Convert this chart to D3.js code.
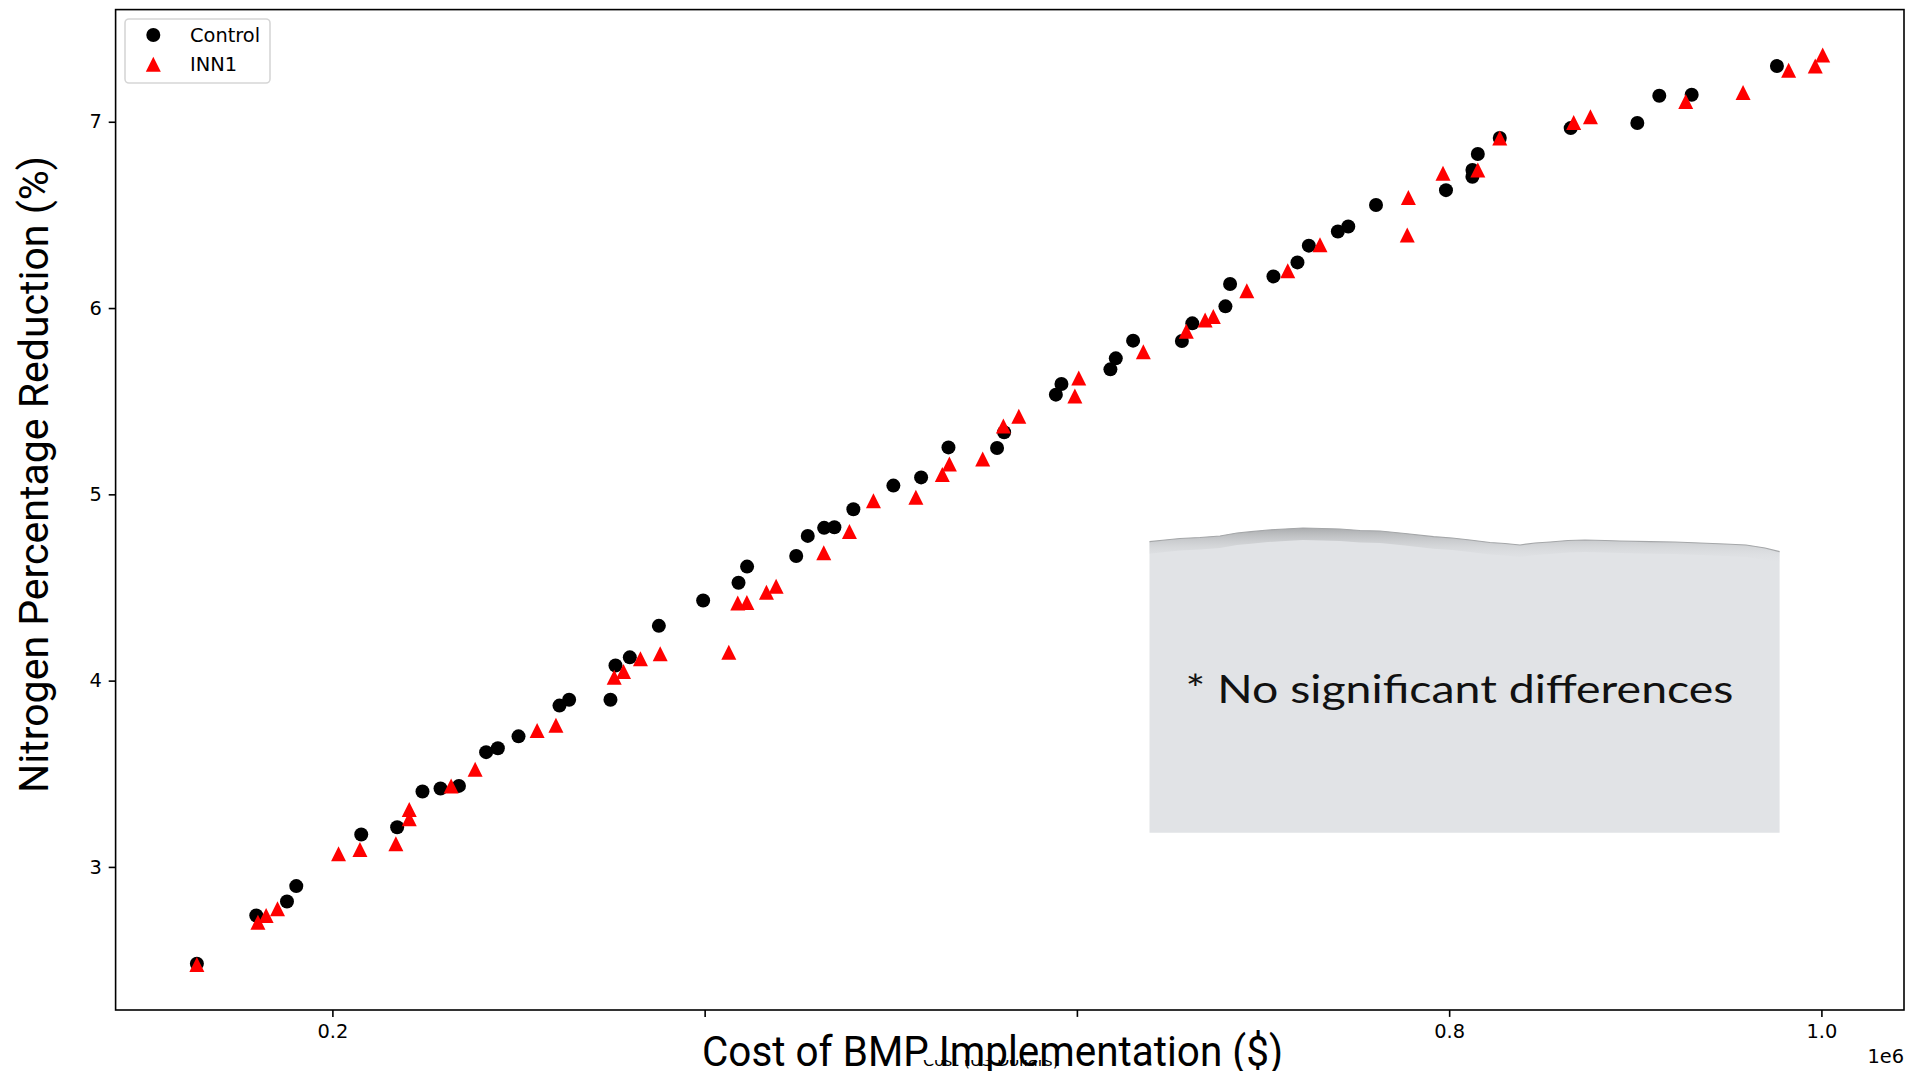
<!DOCTYPE html>
<html lang="en">
<head>
    <meta charset="UTF-8">
    <title>Nitrogen Reduction vs Cost of BMP Implementation</title>
    <script src="https://d3js.org/d3.v7.min.js"></script>
    <style>
        body {
            margin: 0;
            background-color: #ffffff;
        }
        svg {
            display: block;
        }
        .tick text {
            font-family: "DejaVu Sans", sans-serif;
            font-size: 19.4px;
            fill: #000;
        }
        .tick line {
            stroke: #000;
            stroke-width: 1.6;
        }
    </style>
</head>
<body>
    <svg width="1908" height="1071"></svg>

    <script>
        // Cost of BMP implementation ($) and nitrogen reduction (%) per scenario
        const controlCost = [
            127200, 159100, 175600, 180600, 215500, 234800, 248400, 258100, 268000, 282600,
            288900, 300000, 322000, 327200, 349400, 352100, 359800, 375400, 399200, 418200,
            422800, 449200, 455400, 464200, 469700, 479900, 501400, 516300, 531000, 557100,
            560900, 588700, 591700, 618000, 620900, 630200, 656400, 662000, 679800, 682300,
            705600, 718500, 724600, 740200, 745800, 760700, 798300, 812500, 812500, 815400,
            827200, 865300, 901100, 912900, 930300, 976100
        ];
        const controlReduction = [
            2.480, 2.739, 2.814, 2.897, 3.174, 3.213, 3.405, 3.421, 3.435, 3.616,
            3.637, 3.701, 3.866, 3.897, 3.897, 4.081, 4.125, 4.294, 4.430, 4.525,
            4.612, 4.669, 4.777, 4.820, 4.823, 4.920, 5.047, 5.091, 5.252, 5.249,
            5.333, 5.535, 5.592, 5.671, 5.730, 5.825, 5.823, 5.918, 6.009, 6.129,
            6.170, 6.245, 6.335, 6.411, 6.438, 6.553, 6.633, 6.705, 6.741, 6.827,
            6.913, 6.966, 6.993, 7.140, 7.145, 7.299
        ];

        const inn1Cost = [
            127200, 160000, 164400, 170500, 203300, 214800, 234100, 241300, 241300, 263800,
            276700, 310000, 320100, 351400, 356400, 365500, 376100, 413000, 417800, 422700,
            433200, 438400, 464000, 477800, 490700, 513500, 527700, 531500, 549400, 560500,
            568800, 598900, 601000, 635700, 658800, 668900, 673300, 691300, 713300, 730600,
            777500, 778100, 796700, 815400, 827200, 866900, 875900, 927100, 957900, 982400,
            996700, 1000700
        ];
        const inn1Reduction = [
            2.476, 2.703, 2.739, 2.775, 3.070, 3.093, 3.124, 3.258, 3.308, 3.435,
            3.524, 3.732, 3.760, 4.018, 4.049, 4.117, 4.144, 4.152, 4.417, 4.420,
            4.474, 4.506, 4.686, 4.801, 4.966, 4.984, 5.106, 5.163, 5.190, 5.367,
            5.419, 5.528, 5.625, 5.766, 5.875, 5.936, 5.954, 6.093, 6.200, 6.340,
            6.392, 6.594, 6.723, 6.741, 6.913, 6.996, 7.027, 7.109, 7.157, 7.277,
            7.299, 7.358
        ];

        const seriesNames = ["Control", "INN1"];
        // 0.4 and 0.6 labels are blanked out in the source figure
        const xTickValues = [200000, 400000, 600000, 800000, 1000000];
        const xTickLabels = ["0.2", "", "", "0.8", "1.0"];
        const yTickValues = [3, 4, 5, 6, 7];
        const yTickLabels = ["3", "4", "5", "6", "7"];

        const control = controlCost.map((c, i) => ({ x: c, y: controlReduction[i] }));
        const inn1 = inn1Cost.map((c, i) => ({ x: c, y: inn1Reduction[i] }));

        const svg = d3.select("svg");
        const margin = { top: 9.6, right: 4, bottom: 61, left: 115.6 };
        const width = +svg.attr("width");
        const height = +svg.attr("height");

        // matplotlib style 5% padding around the data
        function padded(vals) {
            const [lo, hi] = d3.extent(vals);
            const pad = (hi - lo) * 0.05;
            return [lo - pad, hi + pad];
        }
        const allX = controlCost.concat(inn1Cost);
        const allY = controlReduction.concat(inn1Reduction);

        const x = d3.scaleLinear()
            .domain(padded(allX))
            .range([margin.left, width - margin.right]);

        const y = d3.scaleLinear()
            .domain(padded(allY))
            .range([height - margin.bottom, margin.top]);

        // axes
        svg.append("g")
            .attr("transform", `translate(0,${height - margin.bottom})`)
            .call(d3.axisBottom(x).tickValues(xTickValues)
                .tickFormat((d, i) => xTickLabels[i])
                .tickSize(6.9).tickPadding(6.9))
            .call(g => g.select(".domain").remove());

        svg.append("g")
            .attr("transform", `translate(${margin.left},0)`)
            .call(d3.axisLeft(y).tickValues(yTickValues)
                .tickFormat((d, i) => yTickLabels[i])
                .tickSize(6.9).tickPadding(6.9))
            .call(g => g.select(".domain").remove());

        // offset text
        svg.append("text")
            .attr("x", width - margin.right)
            .attr("y", 1063)
            .attr("text-anchor", "end")
            .style("font-family", "DejaVu Sans, sans-serif")
            .style("font-size", "19.4px")
            .text("1e6");

        // original matplotlib x label, mostly hidden by the label box
        svg.append("text")
            .attr("x", 991)
            .attr("y", 1066)
            .attr("text-anchor", "middle")
            .style("font-family", "DejaVu Sans, sans-serif")
            .style("font-size", "16px")
            .text("Cost (US Dollars)");

        // frame
        svg.append("rect")
            .attr("x", margin.left)
            .attr("y", margin.top)
            .attr("width", width - margin.right - margin.left)
            .attr("height", height - margin.bottom - margin.top)
            .attr("fill", "none")
            .attr("stroke", "#000")
            .attr("stroke-width", 1.6);

        // markers
        const triangle = s => `M0,${-s / 2}L${s / 2},${s / 2}L${-s / 2},${s / 2}Z`;

        svg.append("g").selectAll("circle")
            .data(control)
            .enter().append("circle")
            .attr("cx", d => x(d.x))
            .attr("cy", d => y(d.y))
            .attr("r", 7)
            .attr("fill", "#000");

        svg.append("g").selectAll("path")
            .data(inn1)
            .enter().append("path")
            .attr("transform", d => `translate(${x(d.x)},${y(d.y)})`)
            .attr("d", triangle(15))
            .attr("fill", "#ff0000");

        // legend
        const legend = svg.append("g");
        legend.append("rect")
            .attr("x", 125).attr("y", 19)
            .attr("width", 145).attr("height", 64)
            .attr("rx", 4)
            .attr("fill", "#fff")
            .attr("fill-opacity", 0.8)
            .attr("stroke", "#d6d6d6")
            .attr("stroke-width", 1.6);
        legend.append("circle")
            .attr("cx", 153.3).attr("cy", 35).attr("r", 7).attr("fill", "#000");
        legend.append("path")
            .attr("transform", "translate(153.3,64.3)")
            .attr("d", triangle(15))
            .attr("fill", "#ff0000");
        legend.selectAll("text.lbl")
            .data(seriesNames)
            .enter().append("text")
            .attr("class", "lbl")
            .attr("x", 190)
            .attr("y", (d, i) => 42 + i * 29.3)
            .style("font-family", "DejaVu Sans, sans-serif")
            .style("font-size", "19.4px")
            .text(d => d);

        // x label box (covers the original label)
        svg.append("rect")
            .attr("x", 684).attr("y", 1019)
            .attr("width", 616).attr("height", 41)
            .attr("fill", "#fff");

        svg.append("text")
            .attr("x", 992.5)
            .attr("y", 1066)
            .attr("text-anchor", "middle")
            .attr("textLength", 581)
            .attr("lengthAdjust", "spacingAndGlyphs")
            .style("font-family", "'Liberation Sans Narrow', Roboto, sans-serif")
            .style("font-size", "43px")
            .text("Cost of BMP Implementation ($)");

        // y label
        svg.append("text")
            .attr("transform", "translate(48,474.5) rotate(-90)")
            .attr("text-anchor", "middle")
            .attr("textLength", 637)
            .attr("lengthAdjust", "spacingAndGlyphs")
            .style("font-family", "'Liberation Sans Narrow', Roboto, sans-serif")
            .style("font-size", "41px")
            .text("Nitrogen Percentage Reduction (%)");

        // torn paper note
        const defs = svg.append("defs");
        const grad = defs.append("linearGradient")
            .attr("id", "edgeShade")
            .attr("x1", 0).attr("y1", 0).attr("x2", 0).attr("y2", 1);
        grad.append("stop").attr("offset", "0%").attr("stop-color", "#a4a6a8").attr("stop-opacity", 0.9);
        grad.append("stop").attr("offset", "100%").attr("stop-color", "#e1e3e6").attr("stop-opacity", 0);

        const paperLeft = 1149.5, paperRight = 1779.6, paperBottom = 832.7;
        const tornEdge = [
            [1149.5, 541.7], [1165, 540], [1180, 538.5], [1200, 537.5], [1220, 536],
            [1237, 533], [1251, 531.7], [1268, 530], [1285, 529], [1303, 528],
            [1322, 528.5], [1340, 529], [1360, 530.5], [1380, 531], [1405, 533.5],
            [1433.5, 536.7], [1452, 538], [1470, 540], [1490, 542.5], [1505, 543.5],
            [1520, 545], [1535, 543], [1550, 542], [1568, 540.5], [1585, 540],
            [1605, 540.5], [1620, 541], [1650, 541.7], [1675, 542], [1700, 543],
            [1725, 544], [1746, 545], [1765, 548], [1779.6, 551.7]
        ];
        const paperPts = tornEdge.concat([[paperRight, paperBottom], [paperLeft, paperBottom]]);
        svg.append("path")
            .attr("d", "M" + paperPts.map(p => p.join(",")).join("L") + "Z")
            .attr("fill", "#e1e3e6");

        const band = tornEdge.concat(tornEdge.slice().reverse().map(p => [p[0], p[1] + 12]));
        svg.append("path")
            .attr("d", "M" + band.map(p => p.join(",")).join("L") + "Z")
            .attr("fill", "url(#edgeShade)");
        svg.append("path")
            .attr("d", "M" + tornEdge.map(p => p.join(",")).join("L"))
            .attr("fill", "none")
            .attr("stroke", "#a5a7a9")
            .attr("stroke-width", 1.2);

        svg.append("text")
            .attr("x", 1185.5)
            .attr("y", 702.7)
            .attr("textLength", 548)
            .attr("lengthAdjust", "spacingAndGlyphs")
            .style("font-family", "Lato, 'Open Sans', sans-serif")
            .style("font-size", "39px")
            .style("fill", "#111")
            .text("* No significant differences");
    </script>
</body>
</html>
